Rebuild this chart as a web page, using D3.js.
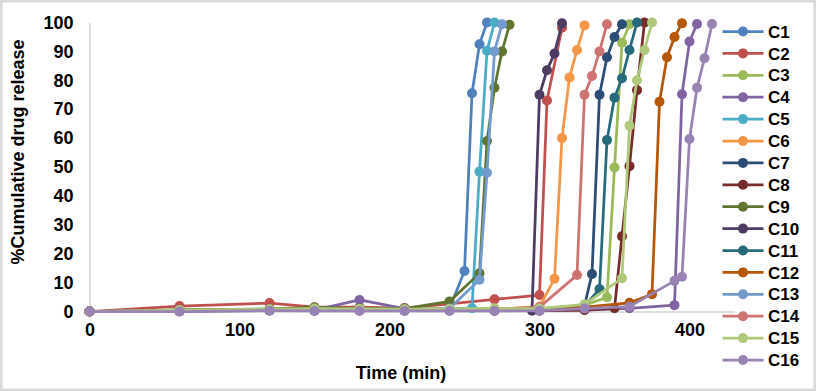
<!DOCTYPE html>
<html><head><meta charset="utf-8">
<script src="https://cdn.jsdelivr.net/npm/d3@7"></script>
<style>
html,body{margin:0;padding:0;background:#fff;}
svg{display:block;font-family:"Liberation Sans",Arial,sans-serif;}
</style></head>
<body><svg id="c" width="816" height="391"></svg>
<script>
const seriesNames = ["C1","C2","C3","C4","C5","C6","C7","C8","C9","C10","C11","C12","C13","C14","C15","C16"];
const colors = ["#4F81BD","#C0504D","#9BBB59","#8064A2","#4BACC6","#F79646","#2C4D75","#772C2A",
                "#5F7530","#4D3B62","#276A7C","#B65708","#729ACA","#CD7371","#AFC97A","#9983B5"];
const xTicks = [0,100,200,300,400];
const yTicks = [0,10,20,30,40,50,60,70,80,90,100];

const C1  = [[0,0],[60,0.5],[120,0.8],[150,0.5],[180,0.8],[210,0.6],[240,1],[250,14],[255,75.5],[260,92.5],[265,100]];
const C2  = [[0,0],[60,1.9],[120,2.9],[150,1.5],[180,1.5],[210,1.2],[240,2.6],[270,4.2],[300,5.7],[305,73],[315,98.2]];
const C3  = [[0,0],[60,0.5],[120,0.8],[150,1.2],[180,1],[210,0.8],[240,1],[270,1],[300,1],[330,2.2],[345,4.9],[350,49.8],[355,93],[360,99.4]];
const C4  = [[0,0],[60,0],[120,0.5],[150,0.5],[180,4],[210,1],[240,0.5],[270,0.5],[300,0.5],[330,0.5],[360,1.1],[390,2.2],[395,75.2],[400,93.4],[405,99.5]];
const C5  = [[0,0],[60,0.3],[120,0.6],[150,0.3],[180,0.5],[210,0.5],[240,0.8],[255,1.1],[260,48.4],[265,90.2],[270,100]];
const C6  = [[0,0],[60,0.4],[120,0.7],[150,0.6],[180,0.6],[210,0.5],[240,0.5],[270,0.7],[300,1.7],[310,11.3],[315,60],[320,81],[325,90.5],[330,99]];
const C7  = [[0,0],[60,0.3],[120,0.5],[150,0.5],[180,0.5],[210,0.5],[240,0.5],[270,0.6],[300,0.8],[330,2],[335,13],[340,75],[345,88],[350,95],[355,99.4]];
const C8  = [[0,0],[60,0.2],[120,0.4],[150,0.4],[180,0.4],[210,0.4],[240,0.4],[270,0.3],[300,0.3],[330,0.5],[350,1.1],[355,26],[360,50.3],[365,76.6],[370,100]];
const C9  = [[0,0],[60,0.6],[120,0.9],[150,1.4],[180,1],[210,1],[240,3.5],[260,13.2],[265,59],[270,77.4],[275,90],[280,99.2]];
const C10 = [[0,0],[60,0.2],[120,0.4],[150,0.4],[180,0.4],[210,0.4],[240,0.5],[270,0.5],[295,0.3],[300,75],[305,83.5],[310,89.3],[315,99.7]];
const C11 = [[0,0],[60,0.3],[120,0.5],[150,0.5],[180,0.5],[210,0.5],[240,0.6],[270,0.7],[300,0.8],[330,1.8],[340,7.8],[345,59.3],[350,74],[355,80.7],[360,90.5],[365,100]];
const C12 = [[0,0],[60,0.3],[120,0.5],[150,0.5],[180,0.5],[210,0.5],[240,0.5],[270,0.5],[300,0.5],[330,1.5],[360,3],[375,6],[380,72.6],[385,88],[390,95],[395,99.7]];
const C13 = [[0,0],[60,0.4],[120,0.6],[150,0.5],[180,0.6],[210,0.6],[240,1],[260,11],[265,48],[270,90],[275,99.4]];
const C14 = [[0,0],[60,0.4],[120,0.7],[150,0.6],[180,0.6],[210,0.6],[240,0.7],[270,0.8],[300,1.5],[325,12.6],[330,75],[335,81.5],[340,90],[345,99.4]];
const C15 = [[0,0],[60,0.5],[120,0.8],[150,1],[180,0.9],[210,0.8],[240,0.9],[270,1],[300,1],[330,2.5],[355,11.5],[360,64.3],[365,80],[370,90.5],[375,100]];
const C16 = [[0,0],[60,0],[120,0.3],[150,0.2],[180,0.2],[210,0.2],[240,0.2],[270,0.2],[300,0.3],[330,1],[360,1.7],[390,10.6],[395,12],[400,59.7],[405,77.4],[410,87.6],[415,99.5]];
const seriesData = [C1,C2,C3,C4,C5,C6,C7,C8,C9,C10,C11,C12,C13,C14,C15,C16];

const svg = d3.select("#c");
const W = 816, H = 391;
// outer chart border
svg.append("rect").attr("x",1.25).attr("y",1.25).attr("width",W-2.5).attr("height",H-2.5)
  .attr("fill","#fff").attr("stroke","#D9D9D9").attr("stroke-width",2.5);

const x = d3.scaleLinear().domain([0,430]).range([89.5,734.5]);
const y = d3.scaleLinear().domain([0,100]).range([311.5,22.5]);

// axes
const xAxis = d3.axisBottom(x).tickValues(xTicks).tickSize(0).tickPadding(12).tickFormat(d3.format("d"));
const yAxis = d3.axisLeft(y).tickValues(yTicks).tickSize(0).tickPadding(16).tickFormat(d3.format("d"));
const gx = svg.append("g").attr("transform",`translate(0,${y(0)})`).call(xAxis);
const gy = svg.append("g").attr("transform",`translate(${x(0)},0)`).call(yAxis);
[gx,gy].forEach(g=>{
  g.select(".domain").attr("stroke","#BFBFBF").attr("stroke-width",1);
  g.selectAll("text").attr("font-family","Liberation Sans, Arial, sans-serif")
   .attr("font-size",18).attr("font-weight","bold").attr("fill","#000");
});

// titles
svg.append("text").attr("x",401).attr("y",379).attr("text-anchor","middle")
  .attr("font-size",18).attr("font-weight","bold").text("Time (min)");
svg.append("text").attr("transform","translate(24,152) rotate(-90)").attr("text-anchor","middle")
  .attr("font-size",18).attr("font-weight","bold").text("%Cumulative drug release");

// series
const line = d3.line().x(d=>x(d[0])).y(d=>y(d[1]));
seriesData.forEach((data,i)=>{
  const g = svg.append("g");
  g.append("path").attr("d",line(data)).attr("fill","none").attr("stroke",colors[i])
    .attr("stroke-width",2.75).attr("stroke-linejoin","round");
  g.selectAll("circle").data(data).join("circle")
    .attr("cx",d=>x(d[0])).attr("cy",d=>y(d[1])).attr("r",5).attr("fill",colors[i]);
});

// legend
const lg = svg.append("g");
seriesNames.forEach((n,i)=>{
  const yy = 31.5 + i*21.9;
  lg.append("line").attr("x1",722.5).attr("x2",763.5).attr("y1",yy).attr("y2",yy)
    .attr("stroke",colors[i]).attr("stroke-width",2.75);
  lg.append("circle").attr("cx",743).attr("cy",yy).attr("r",5).attr("fill",colors[i]);
  lg.append("text").attr("x",768).attr("y",yy).attr("dy","0.36em")
    .attr("font-size",17).attr("font-weight","bold").text(n);
});
</script></body></html>
